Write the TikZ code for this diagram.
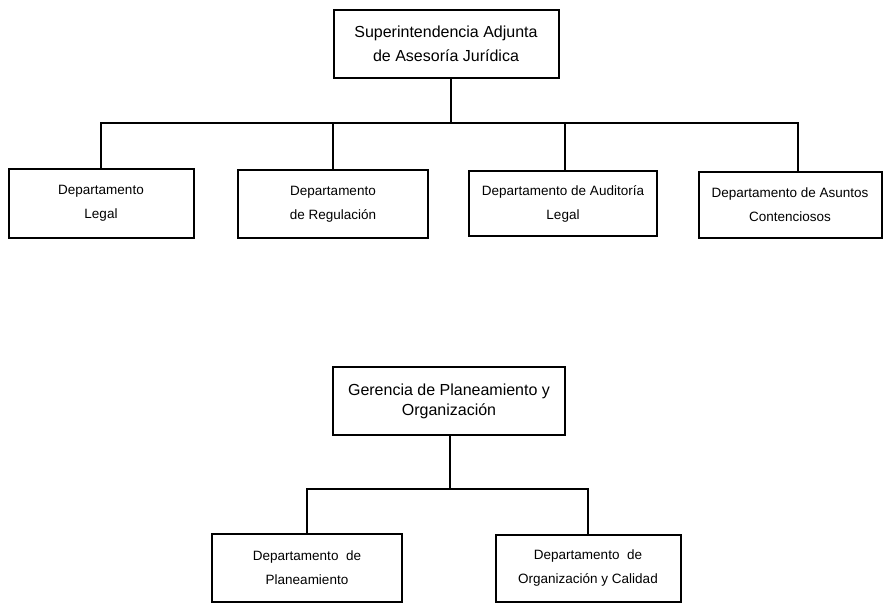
\documentclass[tikz,border=0pt]{standalone}
\usepackage{fontspec}
\setmainfont{Liberation Sans}
\begin{document}
\begin{tikzpicture}[x=1pt,y=-1pt,
  box/.style={draw=black, line width=2pt, inner sep=0pt, align=center, font=\fontsize{13.5}{24}\selectfont},
  bigbox/.style={box, font=\fontsize{16}{24}\selectfont},
  link/.style={draw=black, line width=2pt, line join=miter}]
\useasboundingbox (0,0) rectangle (885,604);
\fill[white] (0,0) rectangle (885,604);
% top chart
\node[bigbox, minimum width=225pt, minimum height=68pt] (sup) at (446,44) {Superintendencia Adjunta\\de Asesoría Jurídica};
\node[box, minimum width=185pt, minimum height=69pt] (legal) at (101,203.5) {Departamento\\Legal};
\node[box, minimum width=190pt, minimum height=68pt] (regu) at (333,204) {Departamento\\de Regulación};
\node[box, minimum width=188pt, minimum height=65pt] (audi) at (563,203.5) {Departamento de Auditoría\\Legal};
\node[box, minimum width=183pt, minimum height=66pt] (asun) at (790,205) {Departamento de Asuntos\\Contenciosos};
\coordinate (bar1) at (451,123);
\draw[link] ([xshift=5pt]sup.south) -- (bar1);
\draw[link] (legal.north) |- (bar1) -| ([xshift=8pt]asun.north);
\draw[link] (regu.north) -- (regu.north |- bar1);
\draw[link] ([xshift=2pt]audi.north) -- ([xshift=2pt]audi.north |- bar1);
% bottom chart
\node[bigbox, font=\fontsize{16}{20}\selectfont, minimum width=232pt, minimum height=68pt] (ger) at (449,401) {Gerencia de Planeamiento y\\Organización};
\node[box, minimum width=190pt, minimum height=68pt] (plan) at (307,568) {Departamento~~de\\Planeamiento};
\node[box, minimum width=185pt, minimum height=67pt] (orga) at (588,568.5) {Departamento~~de\\Organización y Calidad};
\coordinate (bar2) at (450,489);
\draw[link] ([xshift=1pt]ger.south) -- (bar2);
\draw[link] (plan.north) |- (bar2) -| (orga.north);
\end{tikzpicture}
\end{document}
